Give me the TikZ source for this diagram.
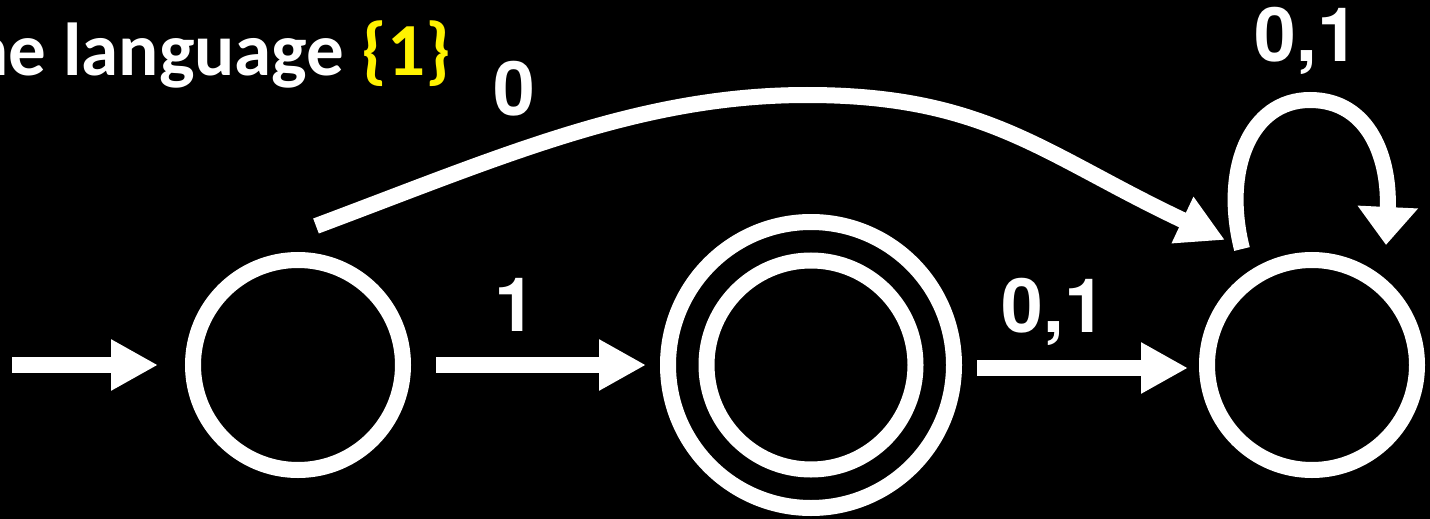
\documentclass[tikz,border=0pt]{standalone}
\usepackage{fontspec}
\setmainfont{TeX Gyre Heros}
\newfontfamily\titlefont{Carlito}
\usetikzlibrary{arrows.meta}
\begin{document}
\begin{tikzpicture}[x=1pt,y=-1pt,
  state/.style={circle, draw=white, line width=16pt, minimum size=210pt, inner sep=0pt},
  accstate/.style={state, minimum size=286pt},
  edge/.style={draw=white, line width=16pt, -{Triangle[length=47pt,width=48pt]}},
  loopedge/.style={draw=white, line width=16pt, -{Triangle[length=38pt,width=58pt]}},
  lbl/.style={text=white, font=\rmfamily\bfseries\fontsize{75}{90}\selectfont, inner sep=0pt, anchor=base},
]
\fill[black] (0,0) rectangle (1430,519);
\useasboundingbox (0,0) rectangle (1430,519);

\node[anchor=base east, inner sep=0pt, text=white,
      font=\titlefont\bfseries\fontsize{75}{90}\selectfont] (title) at (451,75)
      {he language \textcolor{yellow}{\{1\}}};

\node[state] (q0) at (298,365) {};
\node[accstate] (q1) at (811,365) {};
\draw[white, line width=16pt] (q1.center) circle[radius=104.5pt];
\node[state] (q2) at (1312,365) {};

\coordinate (init) at (12,365);
\draw[edge, shorten >=27pt] (init) -- (q0.west);
\draw[edge, shorten <=25pt, shorten >=14pt] (q0.east) -- (q1.west);
\draw[edge, shorten <=15pt, shorten >=11pt] ([yshift=-3pt]q1.east) -- ([yshift=-3pt]q2.west);

\coordinate (zs) at ([shift={(18,-139)}]q0.center);
\coordinate (ze) at ([shift={(-87,-125)}]q2.center);
\coordinate (zp) at (807,95);
\draw[edge] (zs) .. controls (503,156) and (640,95) .. (zp)
                 .. controls (987,95) and (1044,155) .. (ze);

\coordinate (ls) at ([shift={(-70,-116)}]q2.center);
\coordinate (le) at ([shift={(74,-120)}]q2.center);
\coordinate (lt) at (1310,100);
\draw[loopedge] (ls) .. controls (1222,170) and (1250,100) .. (lt)
                   .. controls (1370,100) and (1390,160) .. (le);

\node[lbl] (l0) at (514,115) {0};
\node[lbl] (l1) at (515,331) {1};
\node[lbl] (l01) at (1054,332) {0,1};
\node[lbl] (lloop) at (1307,62) {0,1};
\end{tikzpicture}
\end{document}
